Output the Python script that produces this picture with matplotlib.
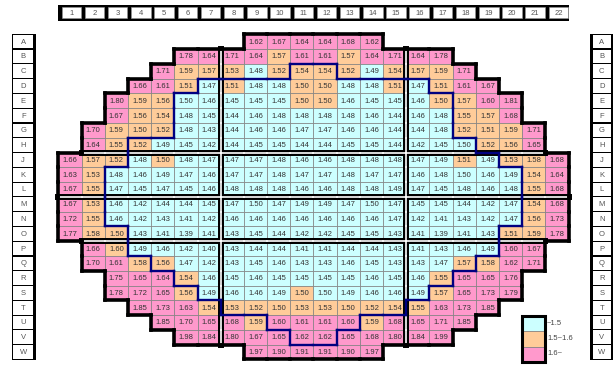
import matplotlib
matplotlib.use('Agg')
import matplotlib.pyplot as plt
import numpy as np
from matplotlib.patches import Rectangle
from matplotlib.collections import LineCollection

plt.rcParams['font.family'] = ['Liberation Sans', 'DejaVu Sans']

row_labels = list('ABCDEFGHJKLMNOPQRSTUVW')
col_labels = [str(c) for c in range(1, 23)]

# first column of each row
row_start = [9, 6, 5, 4, 3, 3, 2, 2, 1, 1, 1, 1, 1, 1, 2, 2, 3, 3, 4, 5, 6, 9]

row_values = [
    [1.62, 1.67, 1.64, 1.64, 1.68, 1.62],
    [1.78, 1.64, 1.71, 1.64, 1.57, 1.61, 1.61, 1.57, 1.64, 1.71, 1.64, 1.78],
    [1.71, 1.59, 1.57, 1.53, 1.48, 1.52, 1.54, 1.54, 1.52, 1.49, 1.54, 1.57, 1.59, 1.71],
    [1.66, 1.61, 1.51, 1.47, 1.51, 1.48, 1.48, 1.50, 1.50, 1.48, 1.48, 1.51, 1.47, 1.51, 1.61, 1.67],
    [1.80, 1.59, 1.56, 1.497, 1.46, 1.45, 1.45, 1.45, 1.50, 1.50, 1.46, 1.45, 1.45, 1.46, 1.50, 1.57, 1.60, 1.81],
    [1.67, 1.56, 1.54, 1.48, 1.45, 1.44, 1.46, 1.48, 1.48, 1.48, 1.48, 1.46, 1.44, 1.46, 1.48, 1.55, 1.57, 1.68],
    [1.70, 1.59, 1.50, 1.52, 1.48, 1.43, 1.44, 1.46, 1.46, 1.47, 1.47, 1.46, 1.46, 1.44, 1.44, 1.48, 1.52, 1.51, 1.59, 1.71],
    [1.64, 1.55, 1.52, 1.49, 1.45, 1.42, 1.44, 1.45, 1.45, 1.44, 1.44, 1.45, 1.45, 1.44, 1.42, 1.45, 1.497, 1.52, 1.56, 1.65],
    [1.66, 1.57, 1.52, 1.48, 1.50, 1.48, 1.47, 1.47, 1.47, 1.48, 1.46, 1.46, 1.48, 1.48, 1.48, 1.47, 1.49, 1.51, 1.49, 1.53, 1.58, 1.68],
    [1.63, 1.53, 1.48, 1.46, 1.49, 1.47, 1.46, 1.47, 1.47, 1.48, 1.47, 1.47, 1.48, 1.47, 1.47, 1.46, 1.48, 1.497, 1.46, 1.49, 1.54, 1.64],
    [1.67, 1.55, 1.47, 1.45, 1.47, 1.45, 1.46, 1.48, 1.48, 1.48, 1.46, 1.46, 1.48, 1.48, 1.49, 1.47, 1.45, 1.48, 1.46, 1.48, 1.55, 1.68],
    [1.67, 1.53, 1.46, 1.42, 1.44, 1.44, 1.45, 1.47, 1.497, 1.47, 1.49, 1.49, 1.47, 1.497, 1.47, 1.45, 1.45, 1.44, 1.42, 1.47, 1.54, 1.68],
    [1.72, 1.55, 1.46, 1.42, 1.43, 1.41, 1.42, 1.46, 1.46, 1.46, 1.46, 1.46, 1.46, 1.46, 1.47, 1.42, 1.41, 1.43, 1.42, 1.47, 1.56, 1.73],
    [1.77, 1.58, 1.50, 1.43, 1.41, 1.39, 1.41, 1.43, 1.45, 1.44, 1.42, 1.42, 1.45, 1.45, 1.43, 1.41, 1.39, 1.41, 1.43, 1.51, 1.59, 1.78],
    [1.66, 1.597, 1.49, 1.46, 1.42, 1.40, 1.43, 1.44, 1.44, 1.41, 1.41, 1.44, 1.44, 1.43, 1.41, 1.43, 1.46, 1.49, 1.60, 1.67],
    [1.70, 1.61, 1.58, 1.56, 1.47, 1.42, 1.43, 1.45, 1.46, 1.43, 1.43, 1.46, 1.45, 1.43, 1.43, 1.47, 1.57, 1.58, 1.62, 1.71],
    [1.75, 1.65, 1.64, 1.54, 1.46, 1.45, 1.46, 1.45, 1.45, 1.45, 1.45, 1.46, 1.45, 1.46, 1.55, 1.65, 1.65, 1.76],
    [1.78, 1.72, 1.65, 1.56, 1.49, 1.46, 1.46, 1.49, 1.50, 1.497, 1.49, 1.46, 1.46, 1.49, 1.57, 1.65, 1.73, 1.79],
    [1.85, 1.73, 1.63, 1.54, 1.53, 1.52, 1.50, 1.53, 1.53, 1.50, 1.52, 1.54, 1.55, 1.63, 1.73, 1.85],
    [1.85, 1.70, 1.65, 1.68, 1.59, 1.60, 1.61, 1.61, 1.60, 1.59, 1.68, 1.65, 1.71, 1.85],
    [1.98, 1.84, 1.80, 1.67, 1.65, 1.62, 1.62, 1.65, 1.68, 1.80, 1.84, 1.99],
    [1.97, 1.90, 1.91, 1.91, 1.90, 1.97],
]

# inner zone outlined in navy: first / last column per row
zone_lo = [None, None, 11, 7, 6, 6, 6, 4, 4, 3, 3, 3, 3, 4, 4, 5, 6, 7, 8, 10, 11, None]
zone_hi = [None, None, 12, 16, 17, 17, 17, 18, 19, 20, 20, 20, 20, 19, 19, 18, 17, 16, 15, 13, 12, None]

# blocks: last column / last row of each group
col_group_ends = [7, 15, 22]
row_group_ends = ['H', 'L', 'O', 'W']

bins = [1.5, 1.6]
bin_colors = ['#ccffff', '#ffcc99', '#ff99cc']
bin_labels = ['~1.5', '1.5~1.6', '1.6~']

cells = {}
for r, (start, vals) in enumerate(zip(row_start, row_values)):
    for k, v in enumerate(vals):
        cells[(r, start + k)] = v

row_end_idx = [row_labels.index(l) for l in row_group_ends]


def block(r, c):
    return (int(np.searchsorted(row_end_idx, r)), int(np.searchsorted(col_group_ends, c)))


def inside(r, c):
    return zone_lo[r] is not None and zone_lo[r] <= c <= zone_hi[r]


fig = plt.figure(figsize=(6.16, 3.65), dpi=100)
ax = fig.add_axes([0, 0, 1, 1])
ax.set_xlim(-2.018, 24.545)
ax.set_ylim(21.875, -2.821)
ax.axis('off')

for (r, c), v in cells.items():
    col = bin_colors[np.digitize(v, bins)]
    ax.add_patch(Rectangle((c - 0.5, r - 0.5), 1, 1, fc=col, ec='#7f7f7f', lw=0.5, zorder=1))
    ax.text(c, r + 0.03, '%.2f' % v, ha='center', va='center', fontsize=5.5, color='#333333', zorder=2)

outer, inner, navy = [], [], []
for (r, c) in cells:
    for dr, dc in [(-1, 0), (1, 0), (0, -1), (0, 1)]:
        if dr:
            y = r + 0.5 * dr
            seg = [(c - 0.5, y), (c + 0.5, y)]
        else:
            x = c + 0.5 * dc
            seg = [(x, r - 0.5), (x, r + 0.5)]
        n = (r + dr, c + dc)
        if n not in cells:
            outer.append(seg)
            continue
        if dr < 0 or dc < 0:
            continue
        if block(r, c) != block(*n):
            inner.append(seg)
        if inside(r, c) != inside(*n):
            navy.append(seg)

ax.add_collection(LineCollection(inner, colors='black', linewidths=4.3, capstyle='projecting', zorder=3))
ax.add_collection(LineCollection(inner, colors='white', linewidths=1.2, capstyle='projecting', zorder=4))
ax.add_collection(LineCollection(outer, colors='black', linewidths=2.6, capstyle='projecting', zorder=5))
ax.add_collection(LineCollection(navy, colors='#000080', linewidths=1.7, capstyle='projecting', zorder=6))

# column header strip
ax.add_patch(Rectangle((0.5, -2.48), 22, 1.08, fc='black', ec='none', zorder=1))
for c, lab in enumerate(col_labels, start=1):
    ax.add_patch(Rectangle((c - 0.36, -2.33), 0.84, 0.75, fc='white', ec='#999999', lw=0.4, zorder=2))
    ax.text(c + 0.06, -1.94, lab, ha='center', va='center', fontsize=5.5, color='#555555', zorder=3)

# row label strips
for x0, x1, wx0, wx1 in [(-1.514, -0.466, -1.445, -0.582), (23.424, 24.437, 23.54, 24.33)]:
    ax.add_patch(Rectangle((x0, -0.55), x1 - x0, 22.1, fc='black', ec='none', zorder=1))
    for r, lab in enumerate(row_labels):
        ax.add_patch(Rectangle((wx0, r - 0.46), wx1 - wx0, 0.92, fc='white', ec='none', zorder=2))
        ax.text((wx0 + wx1) / 2, r + 0.03, lab, ha='center', va='center', fontsize=5.5,
                color='#555555', zorder=3)

# legend
W, H = 616.0, 365.0
ax_leg = fig.add_axes([522 / W, 1 - 362 / H, 23 / W, 46 / H])
ax_leg.set_xlim(0, 1)
ax_leg.set_ylim(3, 0)
ax_leg.axis('off')
for i, (col, lab) in enumerate(zip(bin_colors, bin_labels)):
    ax_leg.add_patch(Rectangle((0, i), 1, 1, fc=col, ec='#7f7f7f', lw=0.5))
    fig.text(547 / W, 1 - (316 + 15 * i + 7.5) / H, lab, ha='left', va='center',
             fontsize=5.5, color='#444444')
ax_leg.add_patch(Rectangle((0, 0), 1, 3, fc='none', ec='black', lw=2.2, clip_on=False))

fig.savefig('out.png', dpi=100)
